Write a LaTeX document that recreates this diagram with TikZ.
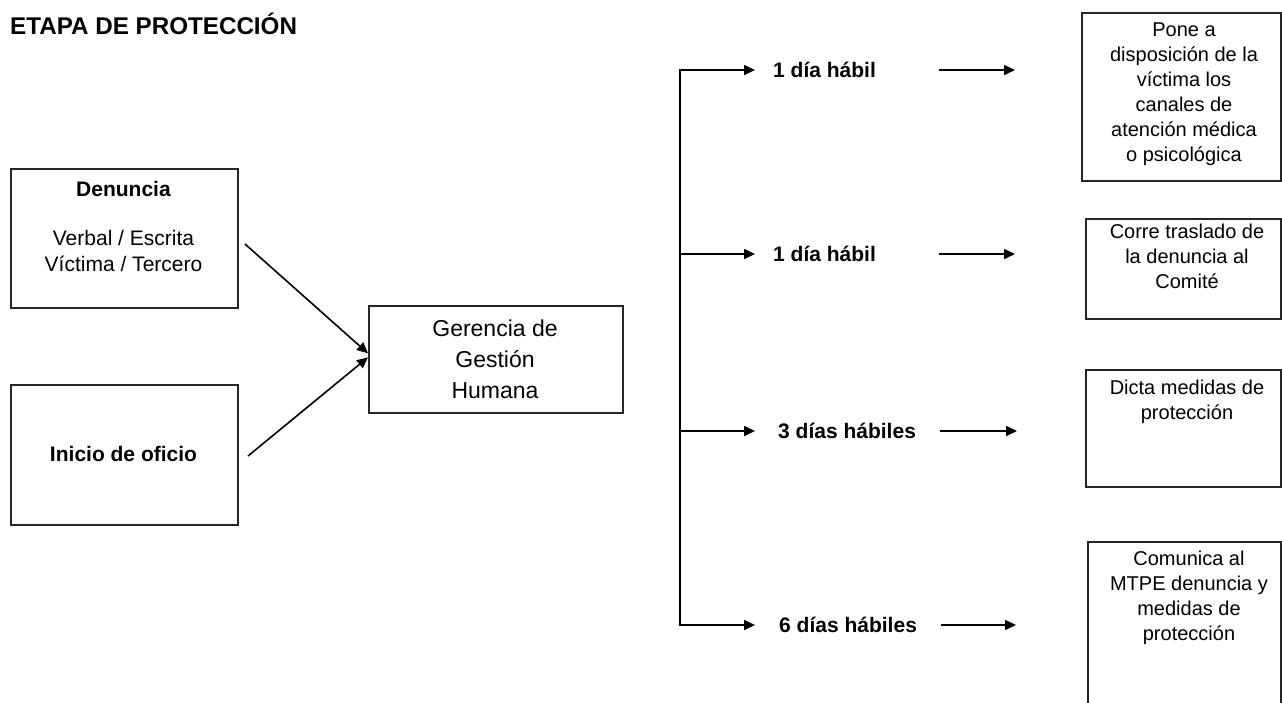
\documentclass[tikz,border=0pt]{standalone}
\usepackage{fontspec}
\setmainfont{Liberation Sans}
\usetikzlibrary{arrows.meta}
\begin{document}
\begin{tikzpicture}[x=1pt,y=-1pt,
  box/.style={draw=black!85, line width=1.7pt, anchor=north west, inner sep=0pt},
  txt/.style={align=center, inner sep=0pt, font=\fontsize{20}{25}\selectfont},
  ltxt/.style={align=center, inner sep=0pt, font=\fontsize{21}{26}\selectfont},
  lbl/.style={font=\bfseries\fontsize{21}{25}\selectfont, anchor=west, inner sep=0pt},
  arr/.style={-{Triangle[length=11pt,width=10pt]}, line width=1.6pt},
  ]
\useasboundingbox (0,0) rectangle (1282,702);
\fill[white] (0,0) rectangle (1282,702);

% title
\node[anchor=west, inner sep=0pt, font=\bfseries\fontsize{24.2}{28}\selectfont] (title) at (10,24) {ETAPA DE PROTECCIÓN};

% left boxes
\node[box, minimum width=227pt, minimum height=139pt] (den) at (10,168) {};
\node[ltxt, font=\bfseries\fontsize{21}{26}\selectfont] (dent) at (123.5,189) {Denuncia};
\node[ltxt] (dent2) at (123.5,251) {Verbal / Escrita\\Víctima / Tercero};

\node[box, minimum width=227pt, minimum height=140pt] (ini) at (10,384) {};
\node[ltxt, font=\bfseries\fontsize{21}{26}\selectfont] (init) at (123.5,454) {Inicio de oficio};

% centre box
\node[box, minimum width=254pt, minimum height=107pt] (ger) at (368,305) {};
\node[align=center, inner sep=0pt, font=\fontsize{23}{31}\selectfont] (gert) at (495,359) {Gerencia de\\Gestión\\Humana};

\coordinate (s1) at (245,244);
\coordinate (s2) at (248,456);
\draw[arr] (s1) -- ([yshift=6pt]ger.west);
\draw[arr] (s2) -- ([yshift=2pt]ger.west);

% labels
\node[lbl] (l1) at (773,70) {1 día hábil};
\node[lbl] (l2) at (773,254) {1 día hábil};
\node[lbl] (l3) at (778,431) {3 días hábiles};
\node[lbl] (l4) at (779,625) {6 días hábiles};

\coordinate (bx) at (680,0);
\coordinate (ax) at (939,0);
\coordinate (ex) at (1015,0);

\draw[arr] (bx |- l4.west) -- (bx |- l1.west) -- ([xshift=-18pt]l1.west);
\draw[arr] (bx |- l1.west) -- (bx |- l4.west) -- ([xshift=-24pt]l4.west);
\draw[arr] (bx |- l2.west) -- ([xshift=-18pt]l2.west);
\draw[arr] (bx |- l3.west) -- ([xshift=-23pt]l3.west);

\draw[arr] (ax |- l1.west) -- (ex |- l1.west);
\draw[arr] (ax |- l2.west) -- (ex |- l2.west);
\draw[arr] ([xshift=1pt]ax |- l3.west) -- ([xshift=2pt]ex |- l3.west);
\draw[arr] ([xshift=2pt]ax |- l4.west) -- ([xshift=1pt]ex |- l4.west);

% right boxes
\node[box, minimum width=199pt, minimum height=168pt] (ba) at (1081,12) {};
\node[txt] (bat) at (1184,94.5) {Pone a\\disposición de la\\víctima los\\canales de\\atención médica\\o psicológica};

\node[box, minimum width=195pt, minimum height=100pt] (bb) at (1085,218) {};
\node[txt] (bbt) at (1187,256) {Corre traslado de\\la denuncia al\\Comité};

\node[box, minimum width=195pt, minimum height=117pt] (bc) at (1085,369) {};
\node[txt] (bct) at (1187,402) {Dicta medidas de\\protección};

\node[box, minimum width=193pt, minimum height=180pt] (bd) at (1087,541) {};
\node[txt] (bdt) at (1189,598) {Comunica al\\MTPE denuncia y\\medidas de\\protección};
\end{tikzpicture}
\end{document}
